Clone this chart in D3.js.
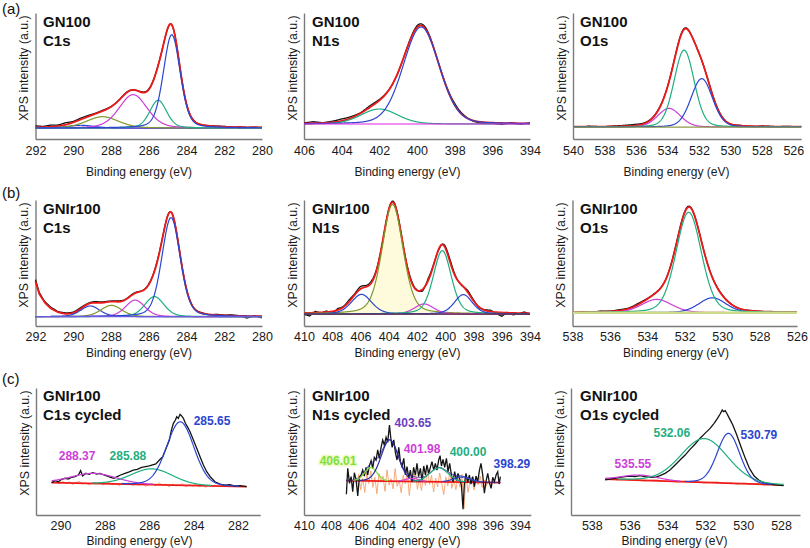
<!DOCTYPE html>
<html><head><meta charset="utf-8">
<script src="https://cdn.jsdelivr.net/npm/d3@7"></script>
<style>body{margin:0;background:#fff}svg{display:block}</style>
</head><body>
<svg id="c" width="810" height="548"></svg>
<script>
// ================= DATA =================
// tick labels
const ticksC1s = [292,290,288,286,284,282,280];
const ticksN1sA = [406,404,402,400,398,396,394];
const ticksO1sA = [540,538,536,534,532,530,528,526];
const ticksN1sB = [410,408,406,404,402,400,398,396,394];
const ticksO1sB = [538,536,534,532,530,528,526];
const ticksC1sC = [290,288,286,284,282];
const ticksN1sC = [410,408,406,404,402,400,398,396,394];
const ticksO1sC = [538,536,534,532,530,528];

// fitted components: [centre (eV), height (a.u.), FWHM (eV)]
const gnC1sPeaks   = [[289.6,2.2,1.6],[288.45,9.0,2.0],[286.83,26.5,1.75],[285.5,22,1.05],[284.78,74,1.05]];
const gnN1sPeaks   = [[402.0,11.9,2.3],[399.78,77,2.25]];
const gnO1sPeaks   = [[533.9,14.8,1.7],[532.94,61,1.5],[531.82,38.4,1.6]];
const irC1sPeaks   = [[289.1,8.5,1.2],[287.98,9.0,1.3],[286.72,13.2,1.2],[285.7,15.9,1.2],[284.82,78.6,1.15]];
const irN1sPeaks   = [[403.73,87,1.75],[405.93,15.6,1.7],[401.5,8,1.6],[400.21,50.3,1.5],[398.72,15.4,1.5]];
const irO1sPeaks   = [[533.5,10.5,1.9],[530.52,11.8,1.7],[531.79,79.7,1.6]];
const cyC1sPeaks   = [[288.5,8,2.4],[285.88,12.5,2.2],[284.6,50,1.45]];
const cyN1sPeaks   = [[405.05,10.6,1.1],[403.65,32.5,1.5],[401.98,2.5,1.2],[400.0,11,1.6],[398.29,4,1.5]];
const cyO1sPeaks   = [[535.45,4.1,2.2],[532.06,34.5,2.9],[530.78,39.2,1.4]];

// baselines [eV, a.u.]
const gnC1sBase = [[292,8.7],[280,8.7]];
const gnN1sBase = [[406,11.9],[394,11.9]];
const gnO1sBase = [[540,9.5],[525.5,9.5]];
const irC1sBase = [[292,7.4],[280,7.4]];
const irC1sBackground = [[292,35],[291.8,25],[291.5,18],[291.2,13.5],[290.8,10.2],[290.4,8.5],[290,7.8],[289,7.4],[280,7.4]];
const irN1sBase = [[410,9.5],[394,9.5]];
const irO1sBase = [[538,10.6],[526,10.6]];
const cyC1sBase = [[290.4,25.5],[281.6,22.3]];
const cyN1sBase = [[406.86,27.0],[395.45,25.5]];
const cyO1sBase = [[537.3,28.3],[527.87,23.6]];

// measured-minus-fit deviations (a.u.), evenly spread over each axis
const gnC1sDev = [1.2,0.6,1.4,0.9,1.6,0.7,1.1,0.9,0.4,0.6,0.3,0.1,0.4,-0.2,0.5,0.6,0.3,0,-0.3,0.2,0,0.3,-0.2,0.1,0.2,0.3,-0.1,0.2,0,0.2,0.1];
const gnN1sDev = [0.4,1.2,0.2,0.9,1.6,1.1,0.4,1.3,0.8,0.3,-0.4,0.5,1.4,1.2,0.3,0.6,1.5,0.8,-0.5,-1.0,-0.4,-1.2,0.4,-0.8,0.5];
const gnO1sDev = [0.2,-0.3,0.4,0.1,-0.2,0.3,0.5,0.8,1.0,0.6,0.4,0.5,0.3,0.6,0.8,0.2,0.1,0.3,0.4,0.2,-0.2,0.3,0.1,-0.3,0.4,0.2,-0.1,0.3,0.1,0.2];
const irC1sDev = [1.5,0.8,1.0,0.5,0.8,0.6,0.9,0.5,1.0,0.7,0.4,0.8,0.3,0.6,0.2,0.5,0.8,0.3,0.1,0.4,0.6,0.2,0.5,-0.3,0.6,0.3,0.6,0.2,-1.6,0.3,-1.3];
const irN1sDev = [-1.0,-2.5,1.0,-0.5,0.8,-1.5,1.2,0.5,1.5,0.8,2.0,1.0,1.8,0.5,-0.5,0.3,1.0,0.8,0.5,1.2,0.5,-1.5,1.8,0.5,-0.8,1.5,2.0,0.5,-0.5,1.5,0.8,-0.5,0.5,1.2,-1.0,-3.0,0.3,-1.5,-0.5,1.0,-0.8];
const irO1sDev = [-0.5,0.3,-0.4,0.6,0.2,0.8,0.5,1.0,0.4,0.3,0.2,0.5,0.8,0.4,0.2,0.3,0.5,0.2,-0.2,0.3,0.1,-0.3,0.2,0.1,0];

// cycled spectra: measured points [eV, a.u.]
const cyC1sData = [[290.4,25.5],[290.24,27.0],[290.09,26.2],[289.94,28.1],[289.79,28.9],[289.64,28.3],[289.49,29.7],[289.34,30.2],[289.19,31.5],[289.09,34.9],[289.0,30.7],[288.85,32.8],[288.7,32.0],[288.55,33.3],[288.37,32.3],[288.22,32.8],[288.04,31.5],[287.89,30.7],[287.74,29.7],[287.59,28.9],[287.44,30.2],[287.29,31.5],[287.09,32.8],[286.9,33.9],[286.72,35.4],[286.54,36.0],[286.34,37.5],[286.16,38.1],[286.0,38.6],[285.85,39.4],[285.7,40.2],[285.54,43.3],[285.39,45.9],[285.27,51.2],[285.18,55.1],[285.09,59.1],[285.0,66.9],[284.91,72.2],[284.82,74.8],[284.76,77.4],[284.69,76.1],[284.61,79.3],[284.54,78.0],[284.46,76.1],[284.37,72.2],[284.28,69.6],[284.16,65.6],[284.01,59.1],[283.86,52.5],[283.71,45.9],[283.56,39.4],[283.41,34.1],[283.23,29.7],[283.04,26.2],[282.81,24.4],[282.59,23.6],[282.36,23.9],[282.14,22.8],[281.91,23.1],[281.61,22.3]];
const cyN1sData = [[406.86,16.3],[406.76,36.7],[406.63,24.9],[406.51,30.2],[406.39,18.4],[406.27,33.3],[406.14,27.6],[406.02,15.0],[405.90,29.7],[405.77,31.5],[405.65,35.4],[405.53,30.7],[405.40,37.5],[405.28,31.5],[405.16,38.6],[405.03,42.8],[404.91,36.7],[404.79,45.4],[404.66,43.3],[404.54,51.2],[404.42,44.6],[404.29,53.3],[404.17,59.1],[404.05,55.1],[403.92,61.2],[403.80,57.2],[403.67,70.9],[403.57,60.4],[403.47,53.3],[403.35,59.1],[403.23,49.1],[403.11,43.3],[402.98,53.3],[402.86,42.0],[402.74,38.1],[402.61,44.6],[402.49,31.5],[402.37,38.1],[402.24,28.9],[402.12,35.4],[402.00,26.2],[401.88,37.5],[401.75,31.5],[401.63,40.7],[401.51,30.2],[401.38,36.7],[401.26,27.0],[401.13,38.6],[401.01,31.5],[400.89,39.4],[400.76,32.8],[400.64,37.5],[400.52,42.0],[400.39,35.4],[400.27,40.7],[400.15,35.4],[400.02,43.3],[399.92,46.7],[399.82,38.6],[399.70,43.8],[399.58,37.5],[399.45,44.6],[399.33,34.1],[399.21,40.7],[399.08,31.5],[398.96,26.2],[398.84,34.1],[398.71,27.0],[398.59,32.8],[398.46,28.1],[398.34,23.6],[398.22,4.5],[398.12,24.4],[398.00,32.8],[397.87,25.5],[397.75,31.5],[397.63,24.4],[397.50,30.2],[397.38,22.3],[397.26,30.7],[397.13,26.2],[397.01,34.9],[396.89,40.7],[396.76,31.5],[396.64,17.1],[396.52,26.2],[396.39,32.8],[396.27,25.5],[396.14,21.0],[396.02,29.7],[395.90,26.2],[395.77,31.5],[395.65,34.1],[395.55,24.4],[395.45,30.2]];
const cyO1sData = [[537.30,27.6],[537.04,28.3],[536.78,28.9],[536.51,29.7],[536.25,30.2],[535.98,30.7],[535.72,30.2],[535.46,31.0],[535.19,30.2],[534.93,29.7],[534.66,29.7],[534.40,31.0],[534.13,32.8],[533.87,35.4],[533.60,39.4],[533.34,43.3],[533.07,47.2],[532.81,51.7],[532.54,55.9],[532.28,60.4],[532.02,64.3],[531.75,68.2],[531.54,72.2],[531.36,76.1],[531.22,79.5],[531.11,82.7],[531.04,81.4],[530.95,82.2],[530.87,80.1],[530.73,76.1],[530.55,70.9],[530.34,63.0],[530.11,53.3],[529.89,44.6],[529.67,36.7],[529.42,30.7],[529.14,27.0],[528.84,24.9],[528.49,24.1],[528.18,23.6],[527.87,23.1]];

// fit residuals of cycled spectra (a.u.), evenly spread between the given limits
const cyC1sResid = [0.5,-0.8,1.2,-0.3,0.9,-1.1,0.4,1.5,-0.6,0.2,-1.3,0.8,-0.4,1.0,-0.9,0.3,1.6,-0.7,0.5,-1.2,0.9,-0.2,1.3,-1.0,0.6,-0.5,1.1,-1.4,0.4,0.8,-0.9,1.7,-0.3,0.6,-1.5,1.0,-0.6,0.3,1.2,-1.1,0.7,-0.4,1.4,-0.8,0.2,-1.2,0.9,-0.5,0.3];
const cyN1sResid = [-3,5,-7,2,-9,6,-2,8,-5,3,-10,6,-1,4,-8,9,-3,2,-6,10,-4,1,-9,5,-2,7,-11,3,-1,8,-6,2,-7,4,-3,9,-2,5,-8,3,-4,7,-1,-10,4,-3,8,-5,2,-6,3,-4,6,-21,5,-8,1,4,-6,3,-2,5,-4,2,-3,1,-2];
const cyO1sResid = [0.4,-0.5,0.6,-0.3,0.5,-0.6,0.3,0.7,-0.4,0.2,-0.6,0.5,-0.3,0.6,-0.5,0.2,0.7,-0.4,0.3,-0.6,0.5,-0.2,0.6,-0.5,0.3,-0.3];

// peak labels of cycled spectra
const cyC1sLabels = ["288.37","285.88","285.65"];
const cyN1sLabels = ["406.01","403.65","401.98","400.00","398.29"];
const cyO1sLabels = ["535.55","532.06","530.79"];

// ================= DRAWING =================
const FONT = "'Liberation Sans', Arial, Helvetica, sans-serif";
const AX = "#7a7a7a";
const COL = {red:"#ee1a1a", black:"#141414", blue:"#2b45d0", green:"#1fae7f", mag:"#cc3fd8",
  olive:"#7f9a2a", navy:"#2f2a9e", lgreen:"#7fe03c", purple:"#6a3fbf", orange:"#f5a26e"};

const rows = [
  {top:13, bot:139, tickY:155, titleY:176, t1:27, t2:46, lab:"(a)", labY:14},
  {top:200,bot:326, tickY:341, titleY:357, t1:214,t2:233, lab:"(b)", labY:198},
  {top:388,bot:515, tickY:530, titleY:545, t1:401,t2:420, lab:"(c)", labY:384}
];
const titleX = [43,312,580];

const panels = [
  {row:0,col:0,dom:[292,280],range:[35.5,262],ticks:ticksC1s,title:["GN100","C1s"],peaks:gnC1sPeaks,
   colors:[COL.blue,COL.olive,COL.mag,COL.green,COL.blue],eta:0.25,base:gnC1sBase,dev:gnC1sDev,baseColor:"#8a3fc8"},
  {row:0,col:1,dom:[406,394],range:[304,530],ticks:ticksN1sA,title:["GN100","N1s"],peaks:gnN1sPeaks,
   colors:[COL.green,COL.blue],eta:0.15,base:gnN1sBase,dev:gnN1sDev,baseColor:"#e020e0",baseTop:true},
  {row:0,col:2,dom:[540,525.5],range:[573,801.2],ticks:ticksO1sA,title:["GN100","O1s"],peaks:gnO1sPeaks,
   colors:[COL.mag,COL.green,COL.blue],eta:0.15,base:gnO1sBase,dev:gnO1sDev,baseColor:"#8c9a48",baseTop:true},
  {row:1,col:0,dom:[292,280],range:[35.5,262],ticks:ticksC1s,title:["GNIr100","C1s"],peaks:irC1sPeaks,
   colors:[COL.blue,COL.olive,COL.mag,COL.green,COL.blue],eta:0.25,base:irC1sBase,bg:irC1sBackground,dev:irC1sDev,baseColor:"#6a5ae0",baseTop:true},
  {row:1,col:1,dom:[410,394],range:[304,530],ticks:ticksN1sB,title:["GNIr100","N1s"],peaks:irN1sPeaks,
   colors:[COL.olive,COL.blue,COL.mag,COL.green,COL.blue],eta:0.3,base:irN1sBase,dev:irN1sDev,baseColor:"#6a2a3a",fillFirst:true,baseTop:true},
  {row:1,col:2,dom:[538,526],range:[572.5,797],ticks:ticksO1sB,title:["GNIr100","O1s"],peaks:irO1sPeaks,
   colors:[COL.mag,COL.blue,COL.green],eta:0.2,base:irO1sBase,dev:irO1sDev,baseColor:"#cfd98a",baseWidth:2.5,baseTop:true},
  {row:2,col:0,dom:[291.1,281],range:[36,260.2],ticks:ticksC1sC,title:["GNIr100","C1s cycled"],peaks:cyC1sPeaks,
   colors:[COL.mag,COL.green,COL.blue],eta:0.1,base:cyC1sBase,data:cyC1sData,resid:cyC1sResid,residLim:[290.2,283.0],
   labels:cyC1sLabels,labelPos:[[289.25,46.5],[286.96,46.5],[283.17,74]],labelCol:[COL.mag,COL.green,COL.blue]},
  {row:2,col:1,dom:[410,393.2],range:[304,530.8],ticks:ticksN1sC,title:["GNIr100","N1s cycled"],peaks:cyN1sPeaks,
   colors:[COL.lgreen,COL.navy,COL.mag,COL.green,COL.blue],eta:0.1,base:cyN1sBase,data:cyN1sData,resid:cyN1sResid,residLim:[406.1,396.2],envelope:true,
   labels:cyN1sLabels,labelPos:[[407.48,42.5],[401.93,72.4],[401.26,52],[397.85,49.6],[394.6,40.2]],labelCol:[COL.lgreen,COL.purple,COL.mag,COL.green,COL.blue]},
  {row:2,col:2,dom:[539.1,527],range:[571,800],ticks:ticksO1sC,title:["GNIr100","O1s cycled"],peaks:cyO1sPeaks,
   colors:[COL.mag,COL.green,COL.blue],eta:0.1,base:cyO1sBase,data:cyO1sData,resid:cyO1sResid,residLim:[537.0,528.2],
   labels:cyO1sLabels,labelPos:[[535.83,40.2],[533.77,64.6],[529.17,63]],labelCol:[COL.mag,COL.green,COL.blue]}
];

function pv(xv,p,eta){const t=(xv-p[0])/p[2];const g=Math.exp(-4*Math.LN2*t*t);const l=1/(1+4*t*t);return p[1]*(eta*l+(1-eta)*g);}
function interpPts(pts,xv){
  const s=pts.slice().sort((a,b)=>a[0]-b[0]);
  if(xv<=s[0][0])return s[0][1]; if(xv>=s[s.length-1][0])return s[s.length-1][1];
  for(let i=1;i<s.length;i++){if(xv<=s[i][0]){const a=s[i-1],b=s[i];return a[1]+(b[1]-a[1])*(xv-a[0])/(b[0]-a[0]);}}
}
function interpEven(arr,lim,xv){
  const f=(xv-lim[0])/(lim[1]-lim[0])*(arr.length-1);
  if(f<0||f>arr.length-1)return 0;
  const i=Math.floor(f),j=Math.min(i+1,arr.length-1);return arr[i]+(arr[j]-arr[i])*(f-i);
}

const svg=d3.select("#c");

rows.forEach(r=>{
  svg.append("text").attr("x",2).attr("y",r.labY).text(r.lab)
    .attr("font-family",FONT).attr("font-size",15).attr("fill","#111");
});

panels.forEach(p=>{
  const r=rows[p.row];
  const x=d3.scaleLinear().domain(p.dom).range(p.range);
  const y=d3.scaleLinear().domain([0,100]).range([r.bot,r.top]);
  const g=svg.append("g");
  const line=d3.line().x(d=>x(d[0])).y(d=>y(d[1]));

  // axes
  const gx=g.append("g").attr("transform",`translate(0,${r.bot})`)
    .call(d3.axisBottom(x).tickValues(p.ticks).tickSize(0).tickSizeOuter(0).tickFormat(d3.format("d")));
  gx.select(".domain").attr("stroke",AX).attr("stroke-width",1.4);
  gx.selectAll("text").attr("y",r.tickY-r.bot).attr("dy",0).attr("font-size",12.5)
    .attr("font-family",FONT).attr("fill","#1a1a1a");
  const gy=g.append("g").attr("transform",`translate(${p.range[0]},0)`)
    .call(d3.axisLeft(y).tickValues([]).tickSizeOuter(0));
  gy.select(".domain").attr("stroke",AX).attr("stroke-width",1.4);

  g.append("text").attr("transform",`translate(${p.range[0]-11.5},${r.top+55}) rotate(-90)`)
    .attr("text-anchor","middle").attr("dominant-baseline","central")
    .attr("font-family",FONT).attr("font-size",12.3).attr("fill","#1a1a1a").text("XPS intensity (a.u.)");
  g.append("text").attr("x",p.range[0]+103.5).attr("y",r.titleY).attr("text-anchor","middle")
    .attr("font-family",FONT).attr("font-size",12).attr("fill","#1a1a1a").text("Binding energy (eV)");

  const tx=titleX[p.col];
  g.append("text").attr("x",tx).attr("y",r.t1).text(p.title[0]).attr("font-family",FONT)
    .attr("font-weight","bold").attr("font-size",15).attr("fill","#111");
  g.append("text").attr("x",tx).attr("y",r.t2).text(p.title[1]).attr("font-family",FONT)
    .attr("font-weight","bold").attr("font-size",15).attr("fill","#111");

  const baseAt=xv=>interpPts(p.base,xv);
  const bgAt=xv=>interpPts(p.bg||p.base,xv);
  const sumAt=xv=>p.peaks.reduce((s,pk)=>s+pv(xv,pk,p.eta),0);

  if(!p.data){
    const lo=Math.min(...p.dom),hi=Math.max(...p.dom);
    const xs=d3.range(lo,hi+0.0001,0.02);
    const env=xs.map(v=>[v,bgAt(v)+sumAt(v)]);
    const blk=xs.map(v=>[v,bgAt(v)+sumAt(v)+interpEven(p.dev,p.dom,v)]);
    const drawBase=()=>g.append("path").attr("d",line([[lo,baseAt(lo)],[hi,baseAt(hi)]])).attr("fill","none")
      .attr("stroke",p.baseColor).attr("stroke-width",p.baseWidth||1.2);
    if(!p.baseTop) drawBase();
    if(p.fillFirst){
      const pk=p.peaks[0];
      g.append("path").attr("d",d3.area().x(d=>x(d[0])).y0(d=>y(baseAt(d[0]))).y1(d=>y(d[1]))(
        xs.map(v=>[v,baseAt(v)+pv(v,pk,p.eta)]))).attr("fill","#fdfbdc");
    }
    g.append("path").attr("d",line(blk)).attr("fill","none").attr("stroke",COL.black).attr("stroke-width",1.3);
    g.append("path").attr("d",line(env)).attr("fill","none").attr("stroke",COL.red).attr("stroke-width",1.8);
    p.peaks.forEach((pk,i)=>{
      g.append("path").attr("d",line(xs.map(v=>[v,baseAt(v)+pv(v,pk,p.eta)])))
        .attr("fill","none").attr("stroke",p.colors[i]).attr("stroke-width",1.2);
    });
    if(p.baseTop) drawBase();
  } else {
    const xsD=p.data.map(d=>d[0]);
    const lo=Math.min(...xsD),hi=Math.max(...xsD);
    const xs=d3.range(lo,hi+0.0001,0.02);
    const nR=p.resid.length;
    const rPts=p.resid.map((v,i)=>{const xv=p.residLim[0]+(p.residLim[1]-p.residLim[0])*i/(nR-1);return [xv,baseAt(xv)+v];});
    g.append("path").attr("d",line(rPts)).attr("fill","none").attr("stroke",COL.orange).attr("stroke-width",1).attr("opacity",0.9);
    g.append("path").attr("d",line([[hi,baseAt(hi)],[lo,baseAt(lo)]])).attr("fill","none")
      .attr("stroke",COL.red).attr("stroke-width",1.8);
    g.append("path").attr("d",line(p.data)).attr("fill","none").attr("stroke",COL.black).attr("stroke-width",1.3);
    if(p.envelope){
      g.append("path").attr("d",line(xs.map(v=>[v,baseAt(v)+sumAt(v)]))).attr("fill","none")
        .attr("stroke",COL.navy).attr("stroke-width",1);
    }
    p.peaks.forEach((pk,i)=>{
      const ln=d3.line().x(d=>x(d[0])).y(d=>y(d[1])).defined(d=>d[2]>0.35);
      g.append("path").attr("d",ln(xs.map(v=>{const c=pv(v,pk,p.eta);return [v,baseAt(v)+c,c];})))
        .attr("fill","none").attr("stroke",p.colors[i]).attr("stroke-width",1.2);
    });
    p.labels.forEach((t,i)=>{
      const tEl=g.append("text").attr("x",x(p.labelPos[i][0])).attr("y",y(p.labelPos[i][1]))
        .attr("text-anchor","middle").attr("dominant-baseline","central")
        .attr("font-family",FONT).attr("font-weight","bold").attr("font-size",12)
        .attr("fill",p.labelCol[i]).text(t);
      if(p.labelCol[i]===COL.lgreen){tEl.attr("stroke","#eefac8").attr("stroke-width",3).attr("paint-order","stroke");}
    });
  }
});
</script>
</body></html>
